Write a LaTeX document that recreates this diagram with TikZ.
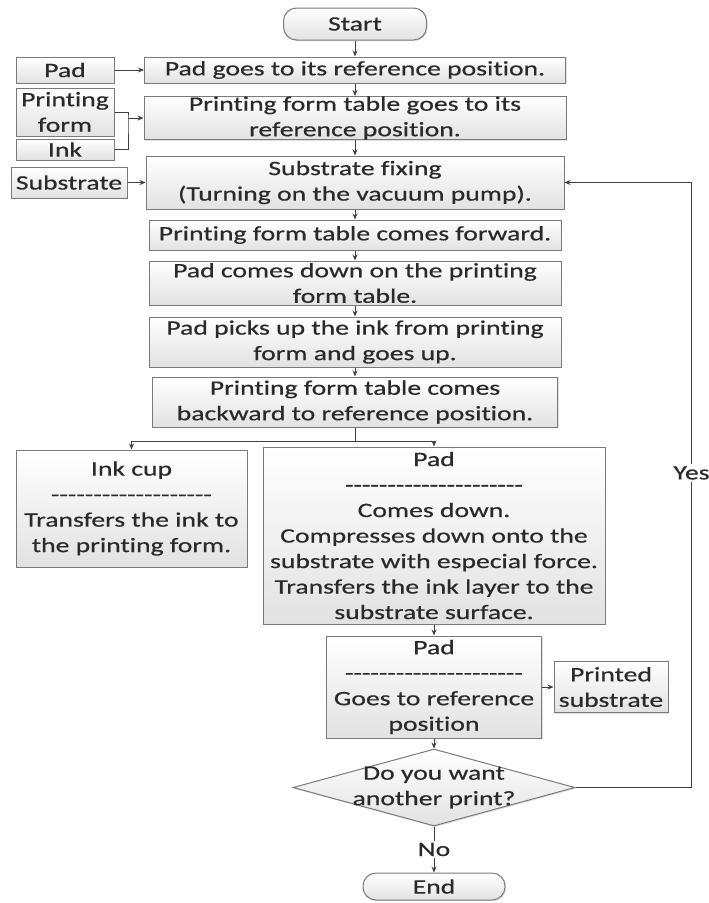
\documentclass[tikz,border=0pt]{standalone}
\usepackage{fontspec}
\setmainfont{Carlito}[FakeStretch=1.35, FakeBold=0.5, Ligatures=NoCommon]
\usetikzlibrary{arrows.meta,shapes.geometric,shadows}
\definecolor{edgegray}{HTML}{7A7A7A}
\definecolor{linegray}{HTML}{404040}
\definecolor{fillgray}{HTML}{E2E2E2}
\definecolor{textgray}{HTML}{2A2A2A}
\newcommand\hyphenrow[1]{\foreach \k in {1,...,#1}{-}}

\begin{document}
\begin{tikzpicture}[x = 1pt, y = -1pt, font = \fontsize{20.5}{25.5}\selectfont,
        box/.style = {draw = edgegray, line width = 1pt, top color = white,
            bottom color = fillgray, align = center, inner sep = 0pt,
            text = textgray, drop shadow = {shadow xshift = 1.2pt,
            shadow yshift = -1.2pt, opacity = 0.25}},
        terminal/.style = {box, rounded corners = 13pt},
        decision/.style = {box, diamond},
        link/.style = {draw = linegray, line width = 0.9pt},
        tag/.style = {fill = white, text = textgray, inner sep = 2pt},
        > = {Stealth[length = 6pt, width = 5pt]}]
        \useasboundingbox (0, 0) rectangle (709, 903);
        \node[terminal, minimum width = 143, minimum height = 32]
            at (355, 24) (start) {Start};
        \node[box, minimum width = 421, minimum height = 26]
            at (355, 70) (pad_ref) {Pad goes to its reference position.};
        \node[box, minimum width = 422, minimum height = 42]
            at (355, 118) (table_ref) {Printing form table goes to its\\reference position.};
        \node[box, minimum width = 418, minimum height = 53]
            at (355, 182.5) (fixing) {Substrate fixing\\(Turning on the vacuum pump).};
        \node[box, minimum width = 412, minimum height = 30]
            at (355, 235) (forward) {Printing form table comes forward.};
        \node[box, minimum width = 412, minimum height = 44]
            at (355, 283) (pad_down) {Pad comes down on the printing\\form table.};
        \node[box, minimum width = 412, minimum height = 50]
            at (355, 342) (pick_up) {Pad picks up the ink from printing\\form and goes up.};
        \node[box, minimum width = 405, minimum height = 50]
            at (355, 402) (backward) {Printing form table comes\\backward to reference position.};
        \node[box, minimum width = 231, minimum height = 117]
            at (131.5, 508.5) (ink_cup) {Ink cup\\\hyphenrow{19}\\Transfers the ink to\\the printing form.};
        \node[box, minimum width = 342, minimum height = 177]
            at (434, 535.5) (pad_press) {Pad\\\hyphenrow{21}\\Comes down.\\Compresses down onto the\\substrate with especial force.\\Transfers the ink layer to the\\substrate surface.};
        \node[box, minimum width = 215, minimum height = 102]
            at (434, 687) (pad_back) {Pad\\\hyphenrow{21}\\Goes to reference\\position};
        \node[box, minimum width = 114, minimum height = 51]
            at (611, 687) (printed) {Printed\\substrate};
        \node[decision, minimum width = 282, minimum height = 77]
            at (434, 787.5) (again) {};
        \node[text = textgray, align = center] at (again) (again_text) {Do you want\\another print?};
        \node[terminal, minimum width = 142, minimum height = 27]
            at (434, 886.5) (end) {End};
        \node[box, minimum width = 98, minimum height = 26] at (65, 70) (in_pad) {Pad};
        \node[box, minimum width = 98, minimum height = 48] at (65, 112) (in_form) {Printing\\form};
        \node[box, minimum width = 98, minimum height = 21] at (65, 149.5) (in_ink) {Ink};
        \node[box, minimum width = 116, minimum height = 31] at (69, 182.5) (in_substrate) {Substrate};
        \coordinate (merge) at (128, 118);
        \draw[link, ->] (start) -- (pad_ref);
        \draw[link, ->] (pad_ref) -- (table_ref);
        \draw[link, ->] (table_ref) -- (fixing);
        \draw[link, ->] (fixing) -- (forward);
        \draw[link, ->] (forward) -- (pad_down);
        \draw[link, ->] (pad_down) -- (pick_up);
        \draw[link, ->] (pick_up) -- (backward);
        \draw[link] (backward.south) -- ++(0, 14) coordinate (split);
        \draw[link, ->] (split) -| (ink_cup);
        \draw[link, ->] (split) -| (pad_press);
        \draw[link, ->] (pad_press) -- (pad_back);
        \draw[link, ->] (pad_back) -- (printed);
        \draw[link, ->] (pad_back) -- (again);
        \draw[link, ->] (again) -- node[tag] (no) {No} (end);
        \draw[link, ->] (again.east) -- ++(116, 0) coordinate (loop)
            |- node[tag, pos = 0.26] (yes) {Yes} (fixing.east);
        \draw[link, ->] (in_pad) -- (pad_ref);
        \draw[link] (in_form) -| (merge) |- (in_ink);
        \draw[link, ->] (merge) -- (table_ref);
        \draw[link, ->] (in_substrate) -- (fixing);
    \end{tikzpicture}
\end{document}
